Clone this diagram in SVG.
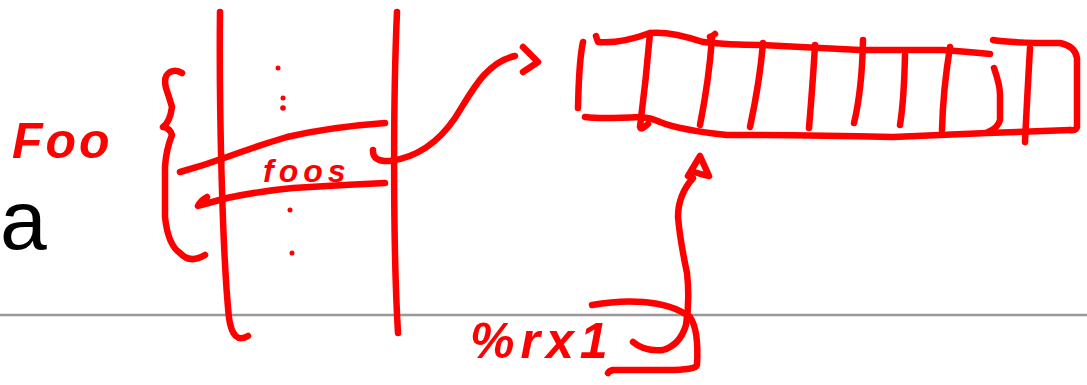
<svg xmlns="http://www.w3.org/2000/svg" width="1087" height="385" viewBox="0 0 1087 385">
<style>
.ink{fill:none;stroke:#ff0000;stroke-width:6.5;stroke-linecap:round;stroke-linejoin:round}
.hand{fill:#ff0000;font-family:"Liberation Sans",Arial,sans-serif;font-weight:bold;font-style:italic}
</style>
<rect width="1087" height="385" fill="#ffffff"/>
<g id="slide">
<text x="0" y="249" font-family="Liberation Sans, Arial, sans-serif" font-size="84" fill="#000000">a</text>
<line x1="0" y1="315" x2="1087" y2="315" stroke="#999999" stroke-width="2.5"/>
</g>
<g id="foo-label">
<text class="hand" x="12" y="158" font-size="50" letter-spacing="3">Foo</text>
</g>
<g id="stack">
<path class="ink" d="M220,12 C219,100 222,250 229,318 Q233,345 248,336"/>
<path class="ink" d="M397,12 C393,100 393,250 398,333"/>
<path class="ink" d="M182,73 Q176,69 170,72 Q163,76 166,88 Q170,100 172,107 Q170,122 163,127 Q170,128 172,135 Q166,150 165,167 L165,217 Q168,245 180,253 Q190,264 205,255"/>
<path class="ink" d="M180,172 Q205,165 227,157 Q260,145 287,137 Q330,127 385,123"/>
<path class="ink" d="M207,197 Q200,201 198,206 Q212,202 227,198 Q260,191 293,188 Q340,185 385,183"/>
<circle cx="278" cy="68" r="2.5" fill="#ff0000"/>
<circle cx="283" cy="98" r="2.5" fill="#ff0000"/>
<circle cx="283" cy="108" r="2.8" fill="#ff0000"/>
<circle cx="290" cy="210" r="2.5" fill="#ff0000"/>
<circle cx="292" cy="253" r="2.5" fill="#ff0000"/>
<text class="hand" x="263" y="182" font-size="32" letter-spacing="5">foos</text>
</g>
<g id="array">
<path class="ink" d="M583,42 Q579,60 578,108"/>
<path class="ink" d="M596,36 L598,42 Q620,44 650,33 Q670,31 703,42 Q730,45 760,45 L860,50 L943,50 Q970,52 990,54"/>
<path class="ink" d="M585,117 Q600,119 640,117 Q652,118 660,122 Q680,130 727,135 Q800,135 893,137 Q940,135 987,133 L1070,130"/>
<path class="ink" d="M993,40 Q1010,43 1060,43 Q1075,46 1077,58 L1077,127 Q1076,131 1070,130"/>
<path class="ink" d="M994,68 Q1000,85 1000,95 L1000,120 Q998,128 988,132"/>
<path class="ink" d="M650,33 Q646,80 640,127 Q641,131 648,124"/>
<path class="ink" d="M710,37 Q714,35 715,34 M712,38 Q709,80 700,125"/>
<path class="ink" d="M763,43 Q760,80 750,127"/>
<path class="ink" d="M815,45 Q813,80 809,128"/>
<path class="ink" d="M863,40 Q862,90 854,123"/>
<path class="ink" d="M905,55 Q904,100 900,125"/>
<path class="ink" d="M950,47 Q943,90 942,130"/>
<path class="ink" d="M1030,48 Q1027,100 1025,142"/>
</g>
<g id="rx1-label">
<text class="hand" x="470" y="358" font-size="50" letter-spacing="6">%rx1</text>
</g>
<g id="connectors">
<path class="ink" d="M373,150 Q372,162 390,161 C420,157 440,140 455,118 C470,95 485,62 515,56"/>
<path class="ink" d="M523,47 L538,62 L523,72"/>
<path class="ink" d="M592,305 Q620,300 643,302 Q672,304 690,317 Q699,330 697,365 Q696,370 667,370 L613,370 Q609,371 608,373"/>
<path class="ink" d="M633,342 Q645,352 663,350 Q680,345 686,325 Q690,300 687,273 Q680,240 678,217 Q678,195 693,178"/>
<path class="ink" d="M688,176 L700,156 L709,176 Q700,174 694,172"/>
</g>
</svg>
